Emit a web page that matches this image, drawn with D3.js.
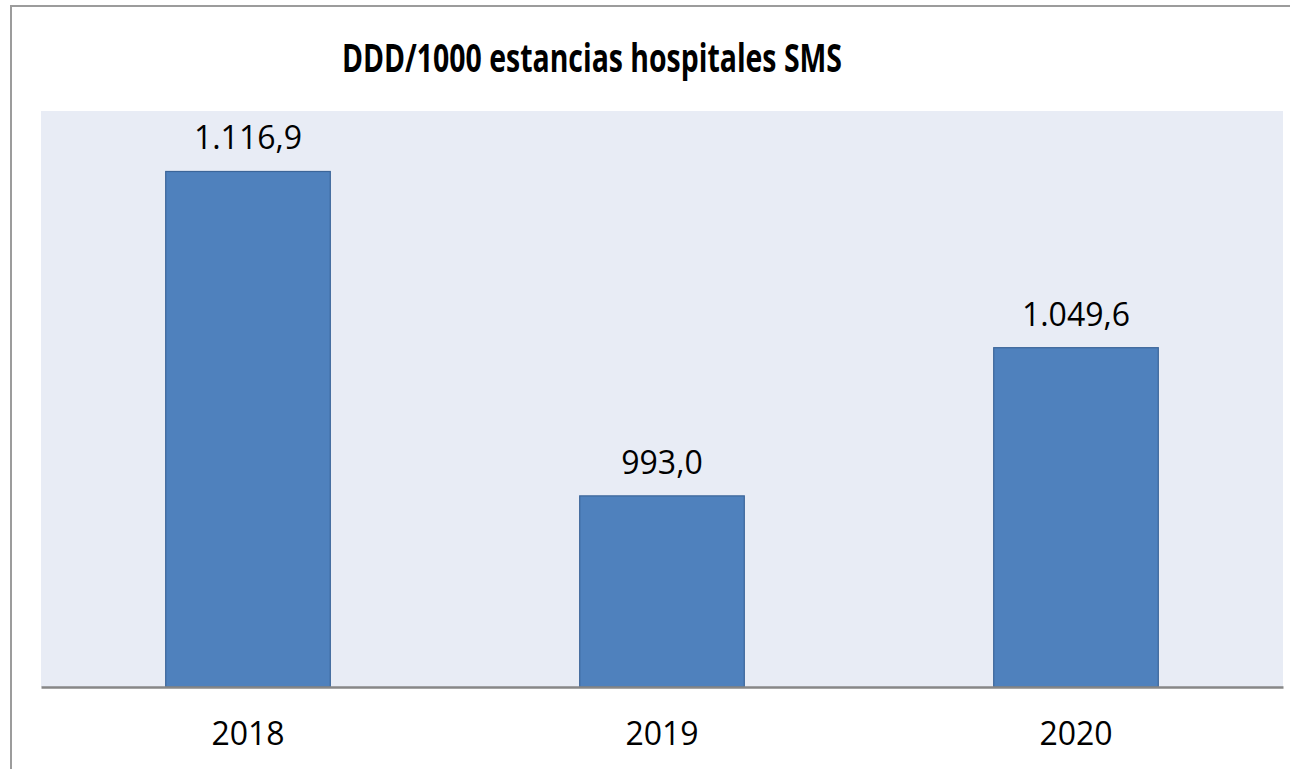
<!DOCTYPE html>
<html>
<head>
<meta charset="utf-8">
<script src="https://cdn.jsdelivr.net/npm/d3@7"></script>
<style>
    body { margin: 0; background: #fff; }
    svg { display: block; }
</style>
</head>
<body>
<div id="chart"></div>
<script>
/* chart data */
var TITLE = "DDD/1000 estancias hospitales SMS";
var YEARS = ["2018", "2019", "2020"];
var VALUES = [1116.9, 993.0, 1049.6];
var Y_DOMAIN = [920, 1140];

var WIDTH = 1290;
var HEIGHT = 769;

var fmt = d3.formatLocale({decimal: ",", thousands: ".", grouping: [3], currency: ["", "€"]}).format(",.1f");

function init(){
    var svg = d3.select("#chart").append("svg")
        .attr("width", WIDTH)
        .attr("height", HEIGHT);

    /* outer chart border (right/bottom edges fall outside the picture) */
    svg.append("rect")
        .attr("x", 11).attr("y", 6)
        .attr("width", WIDTH + 20).attr("height", HEIGHT + 20)
        .attr("fill", "#fff")
        .attr("stroke", "#9c9c9c")
        .attr("stroke-width", 2);

    var plot = {left: 41, right: 1283, top: 111, bottom: 687};

    var x = d3.scaleBand()
        .domain(YEARS)
        .range([plot.left, plot.right])
        .paddingInner(0.6)
        .paddingOuter(0.3);

    var y = d3.scaleLinear()
        .domain(Y_DOMAIN)
        .range([plot.bottom, plot.top]);

    /* plot area */
    svg.append("rect")
        .attr("x", plot.left).attr("y", plot.top)
        .attr("width", plot.right - plot.left)
        .attr("height", plot.bottom - plot.top)
        .attr("fill", "#e8ecf5");

    /* title */
    svg.append("text")
        .attr("x", 592)
        .attr("y", 72)
        .attr("text-anchor", "middle")
        .attr("textLength", 500)
        .attr("lengthAdjust", "spacingAndGlyphs")
        .style("font-family", "'Open Sans', sans-serif")
        .style("font-weight", "bold")
        .style("font-size", "39px")
        .attr("fill", "#000")
        .text(TITLE);

    var data = YEARS.map(function(yr, i){ return {year: yr, value: VALUES[i]}; });

    svg.selectAll(".bar")
        .data(data).enter()
        .append("rect")
        .classed("bar", true)
        .attr("x", function(d){ return x(d.year) + 0.5; })
        .attr("y", function(d){ return y(d.value); })
        .attr("width", x.bandwidth() - 1)
        .attr("height", function(d){ return y(Y_DOMAIN[0]) - y(d.value); })
        .attr("fill", "#4f81bd")
        .attr("stroke", "#3b6599")
        .attr("stroke-width", 1.2);

    svg.selectAll(".value")
        .data(data).enter()
        .append("text")
        .classed("value", true)
        .attr("x", function(d){ return x(d.year) + x.bandwidth() / 2; })
        .attr("y", function(d){ return y(d.value) - 22; })
        .attr("text-anchor", "middle")
        .style("font-family", "'Open Sans', sans-serif")
        .style("font-size", "32px")
        .attr("fill", "#000")
        .text(function(d){ return fmt(d.value); });

    /* x axis */
    var xAxis = svg.append("g")
        .attr("transform", "translate(0," + plot.bottom + ")")
        .call(d3.axisBottom(x).tickSize(0).tickPadding(58));

    xAxis.select(".domain")
        .attr("stroke", "#878787")
        .attr("stroke-width", 2.5);

    xAxis.selectAll("text")
        .style("font-family", "'Open Sans', sans-serif")
        .style("font-size", "32px")
        .attr("fill", "#000")
        .attr("dy", 0);
}

init();
</script>
</body>
</html>
